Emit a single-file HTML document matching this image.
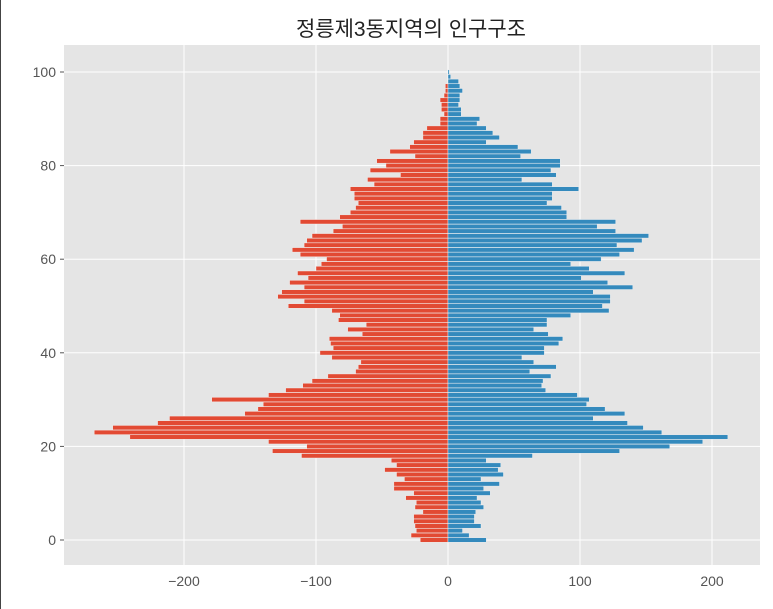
<!DOCTYPE html>
<html><head><meta charset="utf-8"><style>
html,body{margin:0;padding:0;background:#fff;}
svg{display:block;}
text{font-family:"Liberation Sans","Noto Sans CJK KR",sans-serif;}
</style></head><body>
<svg id="chart" width="773" height="609" viewBox="0 0 773 609" xmlns="http://www.w3.org/2000/svg">
<line x1="0.5" y1="0" x2="0.5" y2="609" stroke="#444" stroke-width="1"/>
<text x="411" y="36" text-anchor="middle" font-size="21" fill="#222">정릉제3동지역의 인구구조</text>
<rect x="64" y="45" width="696" height="520" fill="#E5E5E5"/>
<g id="grid"></g>
<g id="bars"></g>
<g id="ticks"></g>
</svg>
<script>
const ages = Array.from({length:101},(_,i)=>i);
const male = [21,28,24,25,26,26,19,25,24,32,26,41,41,33,39,48,39,43,111,133,107,136,241,268,254,220,211,154,144,140,179,136,123,110,103,91,70,68,66,88,97,87,89,90,65,76,62,83,82,88,121,109,129,126,109,120,106,114,100,96,92,112,118,109,107,103,87,80,112,82,74,70,68,71,71,74,56,61,36,59,47,54,25,44,29,26,19,19,16,6,6,3,5,5,6,3,2,2,0,0,0];
const female = [29,16,11,25,20,20,21,27,25,22,32,27,39,25,42,38,40,29,64,130,168,193,212,162,148,136,110,134,119,105,107,98,74,71,72,78,62,82,65,56,73,73,84,87,76,65,75,75,93,122,117,123,123,110,140,121,101,134,107,93,116,130,141,128,147,152,127,113,127,90,90,86,75,79,79,99,79,56,82,78,85,85,55,63,53,29,39,34,29,22,24,10,10,8,9,9,11,9,8,2,1,2];
const xTicks = [-200,-100,0,100,200];
const yTicks = [0,20,40,60,80,100];
const X0=448, XS=1.32, Y0=540, YS=4.68;
const xs = v => X0 + v*XS;
const ys = a => Y0 - a*YS;
const NS='http://www.w3.org/2000/svg';
function mk(tag, attrs, parent){const e=document.createElementNS(NS,tag);for(const k in attrs)e.setAttribute(k,attrs[k]);parent.appendChild(e);return e;}
const grid=document.getElementById('grid'), bars=document.getElementById('bars'), ticks=document.getElementById('ticks');
xTicks.forEach(t=>{
  const l=mk('line',{x1:xs(t),x2:xs(t),y1:45,y2:565,stroke:'#fff','stroke-width':1},grid);
  
  
  const tx=mk('text',{x:xs(t),y:586,'text-anchor':'middle','font-size':14,fill:'#555'},ticks);
  tx.textContent = t<0 ? '\u2212'+Math.abs(t) : String(t);
  
  
});
yTicks.forEach(t=>{
  const l=mk('line',{x1:64,x2:760,y1:ys(t),y2:ys(t),stroke:'#fff','stroke-width':1},grid);
  
  
  const tk=mk('line',{x1:60,x2:64,y1:ys(t),y2:ys(t),stroke:'#555','stroke-width':1},ticks);
  
  
  const tx=mk('text',{x:56,y:ys(t)+5,'text-anchor':'end','font-size':14,fill:'#555'},ticks);
  tx.textContent=String(t);
  
  
});
const h=0.95*YS;
ages.forEach((a,i)=>{
  const m=male[i], f=female[i];
  if(m>0){
    const r=mk('rect',{x:xs(-m),y:ys(a)-h/2,width:m*XS,height:h,fill:'#E24A33',stroke:'#f4f4f4','stroke-width':0.4},bars);
    
    
  }
  if(f>0){
    const r=mk('rect',{x:xs(0),y:ys(a)-h/2,width:f*XS,height:h,fill:'#348ABD',stroke:'#f4f4f4','stroke-width':0.4},bars);
    
    
  }
});
</script>
</body></html>
